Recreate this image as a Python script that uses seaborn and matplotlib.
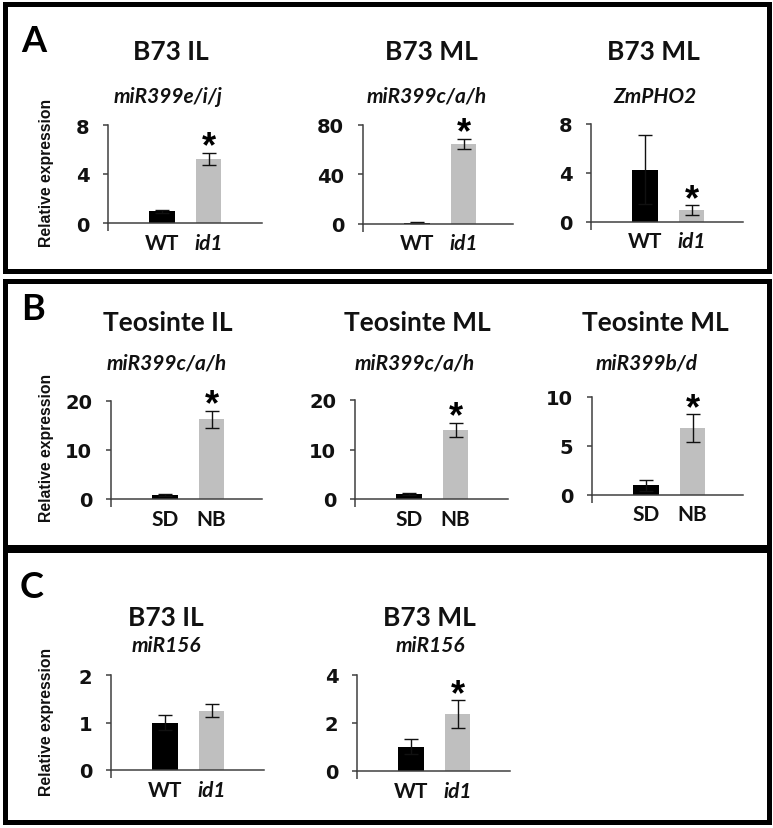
import numpy as np
import pandas as pd
import matplotlib
matplotlib.use("Agg")
import matplotlib.pyplot as plt
import seaborn as sns
from matplotlib.patches import Rectangle

W, H, DPI = 773, 829, 100

# ---- values ----
# Panel A: B73, WT vs id1
a_groups = ["WT", "id1"]
a_titles = ["B73 IL", "B73 ML", "B73 ML"]
a_genes = ["miR399e/i/j", "miR399c/a/h", "ZmPHO2"]
a_means = [[0.95, 5.2], [0.8, 64.5], [4.25, 0.95]]
a_errs = [[0.15, 0.5], [0.2, 4.0], [2.85, 0.38]]
a_yticks = [[0, 4, 8], [0, 40, 80], [0, 4, 8]]
a_sig = [[False, True], [False, True], [False, True]]

# Panel B: teosinte, SD vs NB
b_groups = ["SD", "NB"]
b_titles = ["Teosinte IL", "Teosinte ML", "Teosinte ML"]
b_genes = ["miR399c/a/h", "miR399c/a/h", "miR399b/d"]
b_means = [[0.8, 16.15], [1.0, 13.95], [0.95, 6.8]]
b_errs = [[0.15, 1.75], [0.15, 1.45], [0.55, 1.4]]
b_yticks = [[0, 10, 20], [0, 10, 20], [0, 5, 10]]
b_sig = [[False, True], [False, True], [False, True]]

# Panel C: B73 miR156
c_groups = ["WT", "id1"]
c_titles = ["B73 IL", "B73 ML"]
c_genes = ["miR156", "miR156"]
c_means = [[1.0, 1.25], [1.02, 2.37]]
c_errs = [[0.16, 0.13], [0.32, 0.57]]
c_yticks = [[0, 1, 2], [0, 2, 4]]
c_sig = [[False, False], [False, True]]

BAR_COLORS = ["#000000", "#bfbfbf"]
AXIS_COLOR = "#404040"
TITLE_FONT = ["Lato", "DejaVu Sans"]
LABEL_FONT = ["Liberation Sans", "DejaVu Sans"]
TICK_FONT = ["DejaVu Sans"]

sns.set_theme(style="white")
plt.rcParams["font.family"] = LABEL_FONT

fig = plt.figure(figsize=(W / DPI, H / DPI), dpi=DPI)


def px_box(left, right, top, bottom):
    return [left / W, 1 - bottom / H, (right - left) / W, (bottom - top) / H]


def draw_bars(ax, groups, means, errs, yticks, sig, width_px):
    df = pd.DataFrame({"group": groups, "value": means})
    sns.barplot(data=df, x="group", y="value", hue="group", palette=BAR_COLORS,
                order=groups, hue_order=groups, width=0.54, legend=False,
                saturation=1, ax=ax, edgecolor="none")
    ax.errorbar(x=np.arange(len(groups)), y=means, yerr=errs, fmt="none",
                ecolor="#111111", elinewidth=1.0, capsize=5, capthick=1.0)
    # significance stars sit just above the error bar cap
    for i, s in enumerate(sig):
        if s:
            ax.annotate("*", xy=(i, means[i] + errs[i]), xytext=(0, -2.5),
                        textcoords="offset points", ha="center", va="baseline",
                        fontsize=26, fontweight="bold", family=LABEL_FONT,
                        color="black")
    unit = 46.5
    x0 = -54 / unit
    ax.set_xlim(x0, (width_px - 54) / unit)
    ax.set_ylim(0, yticks[-1])
    ax.set_yticks(yticks)
    ax.set_yticklabels([str(t) for t in yticks], fontsize=14, fontweight="bold",
                       family=TICK_FONT, color="#111111")
    ax.set_xticks(range(len(groups)))
    ax.set_xticklabels(groups, fontsize=15, fontweight="bold",
                       family=TITLE_FONT, color="#111111")
    for lab in ax.get_xticklabels():
        if lab.get_text() == "id1":
            lab.set_style("italic")
    ax.set_xlabel("")
    ax.set_ylabel("")
    sns.despine(ax=ax)
    for side in ["left", "bottom"]:
        ax.spines[side].set_color(AXIS_COLOR)
        ax.spines[side].set_linewidth(1.1)
    ax.tick_params(axis="y", length=3.5, width=1.1, color=AXIS_COLOR, pad=10,
                   direction="out", left=True)
    ax.tick_params(axis="x", which="major", length=0, pad=7)
    ax.set_xticks([x0], minor=True)
    ax.tick_params(axis="x", which="minor", length=5.5, width=1.1,
                   color=AXIS_COLOR, direction="out", bottom=True)


rows = [
    dict(groups=a_groups, titles=a_titles, genes=a_genes, means=a_means,
         errs=a_errs, yticks=a_yticks, sig=a_sig, letter="A",
         boxes=[(108, 262, 126, 224), (363, 513, 126, 224.5), (591, 743, 125, 222.5)],
         title_x=[171, 431, 653], gene_x=[168, 427, 655],
         title_y=52, gene_y=97, ylab_y=173, letter_xy=(34, 41),
         frame=(4.5, 4.5, 768.5, 272)),
    dict(groups=b_groups, titles=b_titles, genes=b_genes, means=b_means,
         errs=b_errs, yticks=b_yticks, sig=b_sig, letter="B",
         boxes=[(111, 262, 401.5, 500), (355, 508, 401, 500), (592, 743, 397.7, 495.7)],
         title_x=[168, 417, 655], gene_x=[167, 415, 647],
         title_y=323, gene_y=364, ylab_y=448, letter_xy=(33, 310),
         frame=(4.5, 282, 768.5, 547.5)),
    dict(groups=c_groups, titles=c_titles, genes=c_genes, means=c_means,
         errs=c_errs, yticks=c_yticks, sig=c_sig, letter="C",
         boxes=[(111, 264, 676, 771), (357, 510, 676, 772)],
         title_x=[166, 429], gene_x=[166, 430],
         title_y=618, gene_y=646, ylab_y=722, letter_xy=(32, 588),
         frame=(4.5, 550.5, 768.5, 823)),
]

for row in rows:
    fx0, fy0, fx1, fy1 = row["frame"]
    fig.add_artist(Rectangle((fx0 / W, 1 - fy1 / H), (fx1 - fx0) / W, (fy1 - fy0) / H,
                             transform=fig.transFigure, fill=False,
                             edgecolor="black", linewidth=3.6))
    lx, ly = row["letter_xy"]
    fig.text(lx / W, 1 - ly / H, row["letter"], ha="center", va="center",
             fontsize=26, fontweight="bold", family=TITLE_FONT, color="black")
    fig.text(47 / W, 1 - row["ylab_y"] / H, "Relative expression", rotation=90,
             ha="center", va="center", fontsize=11.3, fontweight="bold",
             family=LABEL_FONT, color="#111111")
    for k, box in enumerate(row["boxes"]):
        ax = fig.add_axes(px_box(*box))
        draw_bars(ax, row["groups"], row["means"][k], row["errs"][k],
                  row["yticks"][k], row["sig"][k], box[1] - box[0])
        fig.text(row["title_x"][k] / W, 1 - row["title_y"] / H, row["titles"][k],
                 ha="center", va="center", fontsize=19, fontweight="bold",
                 family=TITLE_FONT, color="#111111")
        fig.text(row["gene_x"][k] / W, 1 - row["gene_y"] / H, row["genes"][k],
                 ha="center", va="center", fontsize=15, fontweight="bold",
                 style="italic", family=TITLE_FONT, color="#111111")

fig.savefig("out.png", dpi=DPI)
